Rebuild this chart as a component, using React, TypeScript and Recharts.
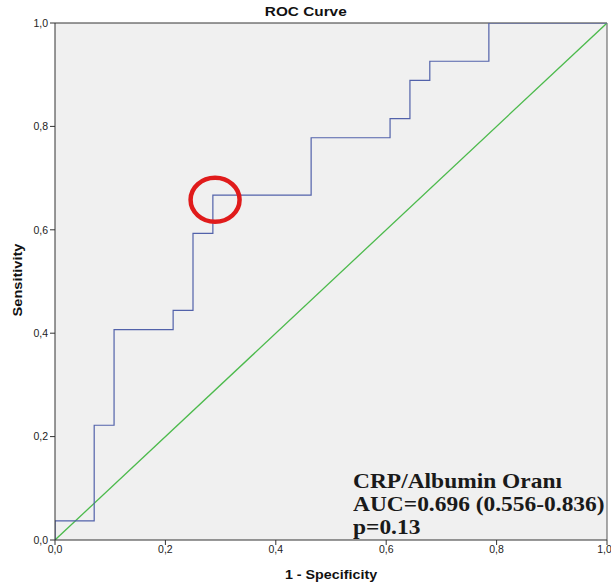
import { LineChart, Line, XAxis, YAxis, CartesianGrid, ReferenceLine, ReferenceDot } from 'recharts';

// ROC curve points (1 - specificity, sensitivity)
const fpr = [0, 0, 0.071, 0.107, 0.214, 0.25, 0.286, 0.464, 0.607, 0.643, 0.679, 0.786, 1];
const tpr = [0, 0.037, 0.222, 0.407, 0.444, 0.593, 0.667, 0.778, 0.815, 0.889, 0.926, 1, 1];
const diagX = [0, 1];
const diagY = [0, 1];
const ticks = [0, 0.2, 0.4, 0.6, 0.8, 1];
const annotation = ['CRP/Albumin Oranı', 'AUC=0.696 (0.556-0.836)', 'p=0.13'];
const cutoff = { x: 0.29, y: 0.658 };

const rocData = fpr.map((x, i) => ({ x, y: tpr[i] }));
const diagData = diagX.map((x, i) => ({ x, y: diagY[i] }));

const fmt = (v: number) => v.toFixed(1).replace('.', ',');
const sans = '"Liberation Sans", Arial, sans-serif';
const tickStyle = { fontSize: 10.5, fill: '#222', fontFamily: sans };

const Ellipse = (props: any) => (
  <ellipse cx={props.cx} cy={props.cy} rx={24.5} ry={22} fill="none" stroke="#e01b1b" strokeWidth={4.5} />
);

export default function App() {
  return (
    <div style={{ position: 'absolute', left: 0, top: 0, width: 611, height: 588, background: '#fff', fontFamily: sans }}>
      <div style={{ position: 'absolute', top: 5, left: 0, width: 611, textAlign: 'center', fontWeight: 'bold', fontSize: 13, lineHeight: '13px', color: '#111', transform: 'scaleX(1.18)', transformOrigin: '304px 0' }}>
        ROC Curve
      </div>
      <LineChart width={611} height={588} margin={{ top: 23, right: 4, left: 0, bottom: 0 }}>
        <CartesianGrid fill="#f0f0f0" horizontal={false} vertical={false} />
        <XAxis
          type="number"
          dataKey="x"
          domain={[0, 1]}
          ticks={ticks}
          tickFormatter={fmt}
          tick={tickStyle}
          tickSize={5}
          tickMargin={1}
          height={48}
          stroke="#333"
          allowDataOverflow
        />
        <YAxis
          type="number"
          dataKey="y"
          domain={[0, 1]}
          ticks={ticks}
          tickFormatter={fmt}
          tick={tickStyle}
          tickSize={5}
          tickMargin={2}
          width={55}
          stroke="#333"
          allowDataOverflow
        />
        <ReferenceLine y={1} stroke="#333" />
        <ReferenceLine x={1} stroke="#555" />
        <Line data={diagData} dataKey="y" type="linear" stroke="#4cba4c" strokeWidth={1.3} dot={false} isAnimationActive={false} />
        <Line data={rocData} dataKey="y" type="stepAfter" stroke="#5262aa" strokeWidth={1.2} dot={false} isAnimationActive={false} />
        <ReferenceDot x={cutoff.x} y={cutoff.y} shape={Ellipse} />
      </LineChart>
      <div style={{ position: 'absolute', left: 17, top: 280, transform: 'translate(-50%, -50%) rotate(-90deg) scaleX(1.12)', fontWeight: 'bold', fontSize: 13, lineHeight: '13px', color: '#111', whiteSpace: 'nowrap' }}>
        Sensitivity
      </div>
      <div style={{ position: 'absolute', top: 568, left: 55, width: 552, textAlign: 'center', fontWeight: 'bold', fontSize: 13, lineHeight: '13px', color: '#111', transform: 'scaleX(1.1)', transformOrigin: '276px 0' }}>
        1 - Specificity
      </div>
      <div style={{ position: 'absolute', left: 353, top: 470, fontFamily: '"Liberation Serif", "Times New Roman", serif', fontWeight: 'bold', fontSize: 21.5, lineHeight: '23px', color: '#1a1a1a', transform: 'scaleX(1.09)', transformOrigin: '0 0', whiteSpace: 'nowrap' }}>
        {annotation.map((t) => (
          <div key={t}>{t}</div>
        ))}
      </div>
    </div>
  );
}
